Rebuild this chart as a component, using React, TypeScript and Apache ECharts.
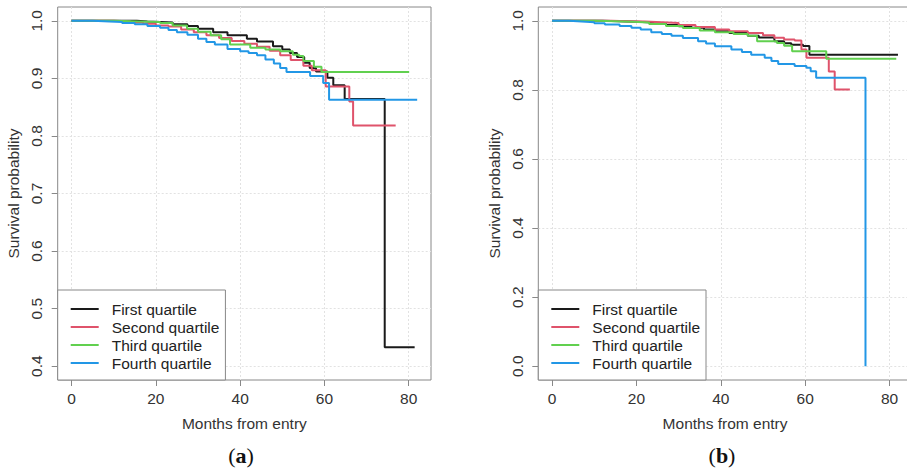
import React, { useEffect, useRef } from "react";
import * as echarts from "echarts";

const seriesNames = ["First quartile", "Second quartile", "Third quartile", "Fourth quartile"];
const seriesColors = ["#1a1a1a", "#DF536B", "#61D04F", "#2297E6"];
const xTicks = [0, 20, 40, 60, 80];
const yTicksA = [0.4, 0.5, 0.6, 0.7, 0.8, 0.9, 1.0];
const yTicksB = [0, 0.2, 0.4, 0.6, 0.8, 1.0];

// Panel (a): [months, survival] at each step
const firstA = [[0,1],[10,1],[15.5,0.999],[18,0.998],[21,0.997],[24,0.994],[27.5,0.991],[30,0.986],[33.6,0.98],[37,0.975],[41.6,0.969],[44,0.964],[47.8,0.956],[50,0.95],[51.8,0.944],[53.5,0.937],[55.2,0.927],[56.5,0.918],[58,0.912],[60.7,0.901],[62.1,0.888],[64.8,0.864],[74.3,0.433],[81.4,0.433]];
const secondA = [[0,1],[10,0.999],[14,0.997],[17,0.995],[20,0.992],[23,0.99],[26,0.985],[29,0.98],[32,0.975],[35,0.97],[38,0.965],[41,0.96],[44,0.955],[47,0.948],[49.5,0.94],[52,0.932],[55,0.922],[57,0.914],[60.3,0.886],[65.9,0.86],[66.8,0.818],[76.9,0.818]];
const thirdA = [[0,1],[10,0.999],[16,0.998],[21,0.996],[24,0.992],[27.4,0.986],[30,0.981],[33,0.975],[35.5,0.968],[37.6,0.959],[42.4,0.953],[46,0.95],[49.5,0.947],[52.5,0.941],[54,0.939],[55,0.93],[57.5,0.92],[59.3,0.911],[80.1,0.911]];
const fourthA = [[0,1],[5,0.999],[9,0.998],[12,0.996],[15,0.994],[18,0.991],[21,0.988],[23,0.984],[25,0.98],[27.5,0.976],[30,0.969],[32,0.963],[34,0.959],[37,0.951],[40,0.947],[42,0.944],[44,0.94],[46,0.933],[48,0.926],[49.5,0.918],[51,0.911],[56.6,0.904],[59.7,0.892],[61.1,0.863],[82,0.863]];

// Panel (b)
const firstB = [[0,1],[12,0.999],[16,0.997],[20,0.995],[24,0.992],[27,0.988],[30,0.984],[33,0.98],[36,0.975],[38.6,0.97],[42,0.965],[46.4,0.957],[49,0.952],[52.7,0.941],[55,0.935],[56.7,0.931],[59.5,0.927],[61,0.902],[82,0.902]];
const secondB = [[0,1],[14,0.999],[18,0.998],[22,0.996],[26,0.994],[30,0.988],[34,0.982],[38.6,0.975],[42,0.97],[46.4,0.965],[50,0.958],[52.7,0.951],[55,0.946],[57.5,0.943],[59.1,0.917],[60.3,0.893],[65.6,0.853],[67,0.801],[70.6,0.801]];
const thirdB = [[0,1],[10,0.999],[15,0.997],[19,0.995],[23,0.991],[27,0.985],[31,0.979],[35,0.972],[38.6,0.967],[43,0.962],[46.4,0.957],[48.6,0.941],[53.3,0.936],[55,0.928],[56.9,0.912],[65,0.89],[81.6,0.89]];
const fourthB = [[0,1],[4,0.998],[7,0.996],[10,0.993],[12.5,0.989],[16,0.985],[18.8,0.98],[21,0.975],[23.5,0.967],[26,0.962],[28.3,0.957],[31,0.95],[34.6,0.941],[36.5,0.934],[38.6,0.926],[42.5,0.917],[45,0.91],[47.2,0.902],[50.4,0.893],[52,0.884],[53.6,0.875],[57.5,0.869],[60.3,0.864],[61.3,0.854],[62.6,0.835],[74.3,0]];

const panelA = [firstA, secondA, thirdA, fourthA];
const panelB = [firstB, secondB, thirdB, fourthB];

const SANS = "'Liberation Sans', Arial, sans-serif";
const SERIF = "'Liberation Serif', 'Times New Roman', serif";
const FS = 15.5;

function makeXAxis(gridIndex: number) {
  return {
    type: "value",
    gridIndex,
    min: -3.28,
    max: 85.28,
    name: "Months from entry",
    nameLocation: "middle",
    nameGap: 35,
    nameTextStyle: { fontSize: FS, color: "#333", fontFamily: SANS },
    axisLine: { show: false, onZero: false },
    axisTick: { show: true, customValues: xTicks, length: 6, lineStyle: { color: "#888" } },
    axisLabel: { customValues: xTicks, fontSize: FS, color: "#333", fontFamily: SANS, margin: 10 },
    splitLine: { show: true, lineStyle: { color: "#e2e2e2", type: [2, 2], width: 1 } },
  };
}

function makeYAxis(gridIndex: number, min: number, max: number, ticks: number[]) {
  return {
    type: "value",
    gridIndex,
    min,
    max,
    name: "Survival probability",
    nameLocation: "middle",
    nameGap: 36,
    nameTextStyle: { fontSize: FS, color: "#333", fontFamily: SANS },
    axisLine: { show: false, onZero: false },
    axisTick: { show: true, customValues: ticks, length: 6, lineStyle: { color: "#888" } },
    axisLabel: {
      customValues: ticks,
      fontSize: FS,
      color: "#333",
      fontFamily: SANS,
      rotate: 90,
      margin: 13,
      formatter: (v: number) => v.toFixed(1),
    },
    splitLine: { show: true, lineStyle: { color: "#e2e2e2", type: [2, 2], width: 1 } },
  };
}

function makeLegend(left: number) {
  return {
    orient: "vertical",
    left,
    top: 290,
    padding: [11, 6, 9, 13],
    itemWidth: 28,
    itemHeight: 14,
    itemGap: 2,
    icon: "path://M0,0L28,0L28,2L0,2Z",
    symbolKeepAspect: true,
    borderColor: "#888",
    borderWidth: 1,
    borderRadius: 0,
    backgroundColor: "#fff",
    selectedMode: false,
    data: seriesNames,
    textStyle: { fontSize: FS, color: "#222", fontFamily: SANS, padding: [0, 0, 0, 8], lineHeight: 14 },
  };
}

export default function App() {
  const ref = useRef<HTMLDivElement>(null);
  useEffect(() => {
    if (!ref.current) return;
    const chart = echarts.init(ref.current, null, { renderer: "svg" });
    const series: any[] = [];
    panelA.forEach((d, i) => {
      series.push({
        type: "line", name: seriesNames[i], xAxisIndex: 0, yAxisIndex: 0, data: d,
        step: "end", symbol: "none", lineStyle: { color: seriesColors[i], width: 2 },
        itemStyle: { color: seriesColors[i] },
      });
    });
    panelB.forEach((d, i) => {
      series.push({
        type: "line", name: seriesNames[i], xAxisIndex: 1, yAxisIndex: 1, data: d,
        step: "end", symbol: "none", lineStyle: { color: seriesColors[i], width: 2 },
        itemStyle: { color: seriesColors[i] },
      });
    });
    chart.setOption({
      animation: false,
      backgroundColor: "#fff",
      grid: [
        { left: 57.7, top: 7, width: 373.3, height: 373, show: true, borderColor: "#888", borderWidth: 1, backgroundColor: "transparent", outerBoundsMode: "none" },
        { left: 538.3, top: 7, width: 373.5, height: 373, show: true, borderColor: "#888", borderWidth: 1, backgroundColor: "transparent", outerBoundsMode: "none" },
      ],
      xAxis: [makeXAxis(0), makeXAxis(1)],
      yAxis: [makeYAxis(0, 0.376, 1.024, yTicksA), makeYAxis(1, -0.04, 1.04, yTicksB)],
      legend: [makeLegend(57.7), makeLegend(538.3)],
      series,
      graphic: [
        {
          type: "text", x: 241, y: 455,
          style: {
            text: "{p|(}{b|a}{p|)}", align: "center", verticalAlign: "middle",
            rich: {
              p: { fontFamily: SERIF, fontSize: 22, fill: "#111" },
              b: { fontFamily: SERIF, fontSize: 22, fontWeight: "bold", fill: "#111" },
            },
          },
        },
        {
          type: "text", x: 722, y: 455,
          style: {
            text: "{p|(}{b|b}{p|)}", align: "center", verticalAlign: "middle",
            rich: {
              p: { fontFamily: SERIF, fontSize: 22, fill: "#111" },
              b: { fontFamily: SERIF, fontSize: 22, fontWeight: "bold", fill: "#111" },
            },
          },
        },
      ],
    });
    return () => chart.dispose();
  }, []);
  return <div ref={ref} style={{ position: "absolute", left: 0, top: 0, width: 907, height: 468 }} />;
}
